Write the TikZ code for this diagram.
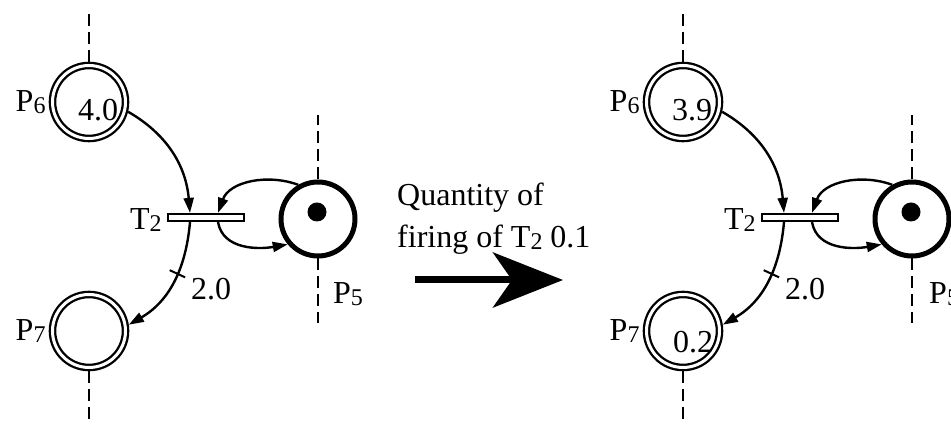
\documentclass[tikz,border=0pt]{standalone}
\usepackage{fontspec}
\setmainfont{Liberation Serif}
\usetikzlibrary{arrows.meta, positioning, calc}

\newcommand{\idx}[1]{\raisebox{-2pt}{\fontsize{24}{24}\selectfont #1}}

\begin{document}
\begin{tikzpicture}[
	x=1pt, y=1pt,
	font=\fontsize{32}{42}\selectfont,
	place/.style={
		circle,
		draw,
		line width=2.3pt,
		double,
		double distance=3pt,
		minimum size=73pt,
		inner sep=0pt,
		outer sep=3.8pt
	},
	marked/.style={circle, draw, line width=5pt, minimum size=74pt, inner sep=0pt},
	token/.style={circle, fill, minimum size=19pt, inner sep=0pt},
	trans/.style={rectangle, draw, line width=2.2pt, minimum width=76pt, minimum height=7pt, inner sep=0pt},
	lbl/.style={inner sep=0pt},
	arc/.style={line width=2.4pt, -{Triangle[length=15pt, width=10pt]}},
	stub/.style={line width=2.4pt, dash pattern=on 12pt off 6pt},
	tick/.style={draw, line width=2pt, minimum width=0pt, minimum height=17pt, inner sep=0pt, sloped},
	fire/.style={line width=7pt, -{Stealth[length=70pt, width=55pt, inset=19pt]}}
]
	\useasboundingbox (0,0) rectangle (951,425);

	% before firing
	\node[place] (lp6) at (89,323) {};
	\node[place] (lp7) at (89,94) {};
	\node[trans] (lt2) at (206,207.5) {};
	\node[marked] (lp5) at (318,206) {};
	\node[token] (ltok) at (317,213) {};

	\node[lbl, left=3pt of lp6] (lp6name) {P\idx{6}};
	\node[lbl, left=3pt of lp7] (lp7name) {P\idx{7}};
	\node[lbl, left=5pt of lt2, yshift=-3pt] (lt2name) {T\idx{2}};
	\node[lbl, anchor=west] (lp5name) at ($(lp5)+(15,-75)$) {P\idx{5}};
	\node[lbl] (lp6val) at ($(lp6)+(9,-8)$) {4.0};
	\node[lbl] (lweight) at (211,136) {2.0};

	\coordinate (lp6up) at (89,415);
	\coordinate (lp7down) at (89,0);
	\coordinate (lp5up) at (318,310);
	\coordinate (lp5down) at (318,102);

	\draw[stub] (lp6) -- (lp6up);
	\draw[stub] (lp7) -- (lp7down);
	\draw[stub] (lp5) -- (lp5up);
	\draw[stub] (lp5) -- (lp5down);

	\draw[arc] (lp6.-14) to[out=-30, in=95] ([xshift=-16pt]lt2.north);
	\draw[arc] (lp5.120) to[out=160, in=70] ([xshift=12pt]lt2.north);
	\draw[arc] ([xshift=12pt]lt2.south) to[out=-80, in=190] (lp5.-140);
	\draw[arc] ([xshift=-16pt]lt2.south) to[out=-95, in=30] node[tick, pos=0.42] (ltick) {} (lp7.9);

	% firing
	\coordinate (go) at (415,145);
	\coordinate (stop) at (563,145);
	\draw[fire] (go) -- (stop);
	\node[lbl, align=left, anchor=north west] (qty) at (397,242) {Quantity of\\firing of T\idx{2} 0.1};

	% after firing
	\begin{scope}[xshift=594pt]
		\node[place] (rp6) at (89,323) {};
		\node[place] (rp7) at (89,94) {};
		\node[trans] (rt2) at (206,207.5) {};
		\node[marked] (rp5) at (318,206) {};
		\node[token] (rtok) at (317,213) {};

		\node[lbl, left=3pt of rp6] (rp6name) {P\idx{6}};
		\node[lbl, left=3pt of rp7] (rp7name) {P\idx{7}};
		\node[lbl, left=5pt of rt2, yshift=-3pt] (rt2name) {T\idx{2}};
		\node[lbl, anchor=west] (rp5name) at ($(rp5)+(17,-75)$) {P\idx{5}};
		\node[lbl] (rp6val) at ($(rp6)+(9,-8)$) {3.9};
		\node[lbl] (rp7val) at ($(rp7)+(10,-11)$) {0.2};
		\node[lbl] (rweight) at (211,136) {2.0};

		\coordinate (rp6up) at (89,415);
		\coordinate (rp7down) at (89,0);
		\coordinate (rp5up) at (318,310);
		\coordinate (rp5down) at (318,102);

		\draw[stub] (rp6) -- (rp6up);
		\draw[stub] (rp7) -- (rp7down);
		\draw[stub] (rp5) -- (rp5up);
		\draw[stub] (rp5) -- (rp5down);

		\draw[arc] (rp6.-14) to[out=-30, in=95] ([xshift=-16pt]rt2.north);
		\draw[arc] (rp5.120) to[out=160, in=70] ([xshift=12pt]rt2.north);
		\draw[arc] ([xshift=12pt]rt2.south) to[out=-80, in=190] (rp5.-140);
		\draw[arc] ([xshift=-16pt]rt2.south) to[out=-95, in=30] node[tick, pos=0.42] (rtick) {} (rp7.9);
	\end{scope}

\end{tikzpicture}
\end{document}
